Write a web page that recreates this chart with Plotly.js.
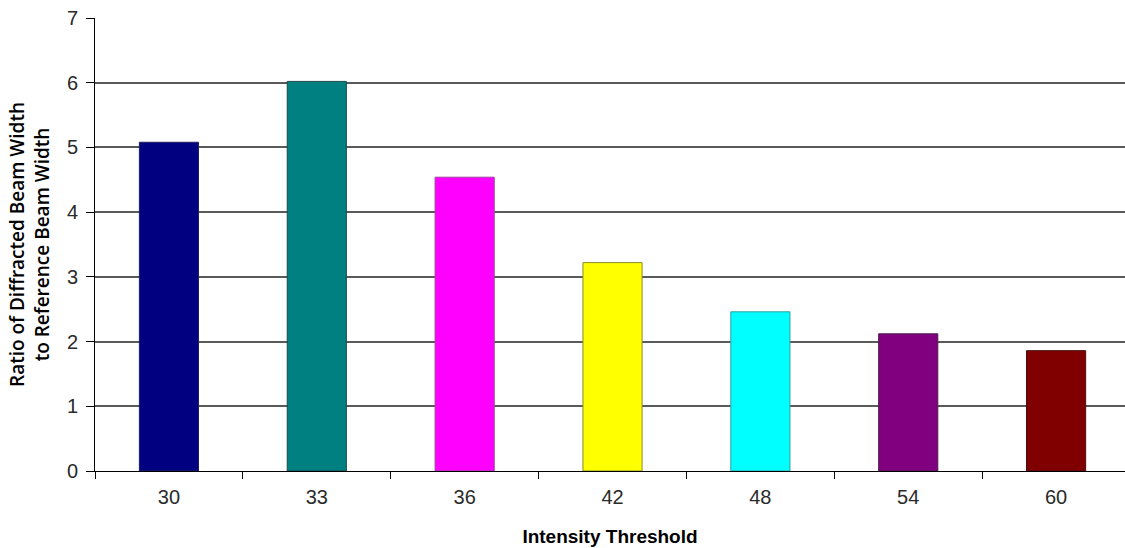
<!DOCTYPE html>
<html>
<head>
<meta charset="utf-8">
<script src="https://cdn.plot.ly/plotly-3.0.1.min.js"></script>
<style>
  html, body { margin: 0; padding: 0; background: #fff; }
  #chart { width: 1125px; height: 548px; }
</style>
</head>
<body>
<div id="chart"></div>
<script>
// Intensity threshold levels (categories) and the measured width ratios
const thresholds = ['30', '33', '36', '42', '48', '54', '60'];
const ratios = [5.08, 6.02, 4.54, 3.22, 2.46, 2.12, 1.86];
const barColors = ['#000080', '#008080', '#FF00FF', '#FFFF00', '#00FFFF', '#800080', '#800000'];
const barEdges = ['#20205a', '#1e4a4a', '#a040a0', '#8a8a30', '#30a0a0', '#4a204a', '#4a1010'];
const yTicks = [0, 1, 2, 3, 4, 5, 6, 7];

const trace = {
  type: 'bar',
  x: thresholds,
  y: ratios,
  width: 0.4,
  marker: { color: barColors, line: { color: barEdges, width: 1 } },
  hoverinfo: 'x+y'
};

const tickFont = { family: 'Liberation Sans, Arial, sans-serif', size: 20, color: '#2a2a2a' };

const layout = {
  width: 1125,
  height: 548,
  margin: { l: 95, r: 0, t: 18, b: 77 },
  paper_bgcolor: '#ffffff',
  plot_bgcolor: '#ffffff',
  showlegend: false,
  xaxis: {
    type: 'category',
    range: [-0.5, 6.466],
    tickson: 'boundaries',
    ticks: 'outside',
    ticklen: 7,
    tickwidth: 1,
    tickcolor: '#000',
    ticklabelstandoff: 8,
    showline: true,
    linecolor: '#000',
    linewidth: 1,
    showgrid: false,
    zeroline: false,
    tickfont: tickFont,
    title: {
      text: 'Intensity Threshold',
      font: { family: 'Liberation Sans, Arial, sans-serif', size: 19, color: '#000', weight: 'bold' },
      standoff: 22
    }
  },
  yaxis: {
    range: [0, 7],
    tickvals: yTicks,
    ticks: 'outside',
    ticklen: 8,
    tickwidth: 1,
    tickcolor: '#000',
    ticklabelstandoff: 4,
    showline: true,
    linecolor: '#000',
    linewidth: 1,
    showgrid: true,
    gridcolor: '#5a5a5a',
    gridwidth: 2,
    zeroline: true,
    zerolinecolor: '#000',
    zerolinewidth: 1,
    tickfont: tickFont,
    title: {
      text: 'Ratio of Diffracted Beam Width<br>to Reference Beam Width',
      font: { family: 'Open Sans, sans-serif', size: 19, color: '#000', weight: 600 },
      standoff: 12
    }
  }
};

Plotly.newPlot('chart', [trace], layout, { displayModeBar: false, staticPlot: true });
</script>
</body>
</html>
